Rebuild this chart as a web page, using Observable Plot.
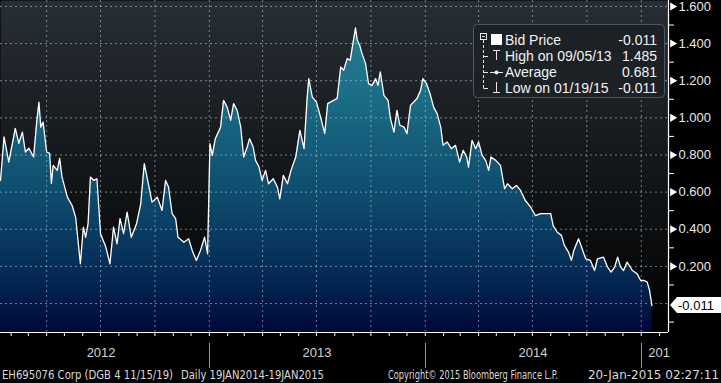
<!DOCTYPE html>
<html><head><meta charset="utf-8">
<script src="https://cdn.jsdelivr.net/npm/d3@7"></script>
<script src="https://cdn.jsdelivr.net/npm/@observablehq/plot@0.6"></script>
<style>
html,body{margin:0;padding:0;background:#000;}
#wrap{position:relative;width:721px;height:383px;overflow:hidden;background:#000;}
#footer{position:relative;width:721px;height:15px;font-family:"DejaVu Sans Condensed","DejaVu Sans",sans-serif;font-size:11.5px;color:#d9d9d9;}
#footer span{position:absolute;top:0;line-height:15px;white-space:nowrap;transform-origin:left center;}
</style></head><body>
<div id="wrap"><div id="chart"></div><div id="footer"></div></div>
<script>
// ---- data ----
const dates = ["2012-01-14","2012-01-20","2012-01-28","2012-02-08","2012-02-14","2012-02-20","2012-02-25","2012-03-02","2012-03-10","2012-03-15","2012-03-19","2012-03-22","2012-03-26","2012-04-01","2012-04-06","2012-04-09","2012-04-12","2012-04-19","2012-04-23","2012-04-27","2012-05-06","2012-05-14","2012-05-20","2012-05-28","2012-06-02","2012-06-06","2012-06-10","2012-06-14","2012-06-20","2012-06-25","2012-07-01","2012-07-10","2012-07-17","2012-07-23","2012-07-29","2012-08-03","2012-08-09","2012-08-15","2012-08-22","2012-08-31","2012-09-07","2012-09-13","2012-09-21","2012-09-26","2012-10-05","2012-10-13","2012-10-19","2012-10-24","2012-10-30","2012-11-05","2012-11-09","2012-11-19","2012-11-27","2012-12-03","2012-12-10","2012-12-17","2012-12-24","2012-12-29","2013-01-02","2013-01-06","2013-01-11","2013-01-20","2013-01-25","2013-01-31","2013-02-06","2013-02-11","2013-02-17","2013-02-23","2013-02-28","2013-03-06","2013-03-10","2013-03-16","2013-03-20","2013-03-26","2013-03-31","2013-04-06","2013-04-11","2013-04-19","2013-04-26","2013-04-30","2013-05-06","2013-05-13","2013-05-19","2013-05-27","2013-06-03","2013-06-10","2013-06-15","2013-06-18","2013-06-24","2013-07-01","2013-07-08","2013-07-15","2013-07-20","2013-07-30","2013-08-05","2013-08-11","2013-08-16","2013-08-22","2013-08-27","2013-09-05","2013-09-08","2013-09-12","2013-09-16","2013-09-22","2013-09-27","2013-10-03","2013-10-09","2013-10-13","2013-10-17","2013-10-23","2013-10-30","2013-11-03","2013-11-09","2013-11-14","2013-11-19","2013-11-26","2013-12-01","2013-12-07","2013-12-18","2013-12-24","2013-12-28","2014-01-03","2014-01-09","2014-01-15","2014-01-21","2014-01-27","2014-01-31","2014-02-07","2014-02-14","2014-02-21","2014-02-28","2014-03-06","2014-03-12","2014-03-15","2014-03-21","2014-03-27","2014-04-01","2014-04-07","2014-04-13","2014-04-18","2014-04-22","2014-04-30","2014-05-08","2014-05-15","2014-05-20","2014-05-28","2014-06-04","2014-06-11","2014-06-19","2014-06-28","2014-07-06","2014-07-15","2014-07-23","2014-08-01","2014-08-05","2014-08-12","2014-08-19","2014-08-24","2014-08-31","2014-09-05","2014-09-09","2014-09-17","2014-09-23","2014-09-29","2014-10-07","2014-10-14","2014-10-19","2014-10-29","2014-11-05","2014-11-11","2014-11-17","2014-11-22","2014-11-27","2014-12-02","2014-12-08","2014-12-17","2014-12-25","2014-12-31","2015-01-06","2015-01-11","2015-01-15","2015-01-19"];
const values = [0.663,0.897,0.762,0.943,0.863,0.923,0.816,0.836,0.789,0.970,1.085,0.950,0.977,0.816,0.809,0.647,0.744,0.717,0.782,0.681,0.573,0.528,0.465,0.214,0.411,0.357,0.430,0.681,0.663,0.672,0.376,0.304,0.214,0.411,0.322,0.457,0.376,0.492,0.357,0.430,0.537,0.753,0.627,0.546,0.573,0.501,0.663,0.627,0.484,0.457,0.357,0.330,0.349,0.286,0.232,0.286,0.357,0.268,0.861,0.798,0.888,0.950,1.094,1.058,0.987,1.077,1.040,0.950,0.789,0.843,0.888,0.843,0.771,0.735,0.663,0.717,0.645,0.672,0.627,0.564,0.690,0.645,0.717,0.789,0.933,0.834,1.094,1.211,1.112,1.085,1.004,0.915,1.077,1.094,1.104,1.274,1.256,1.319,1.310,1.485,1.418,1.391,1.346,1.292,1.184,1.175,1.211,1.175,1.247,1.121,1.094,0.996,0.923,1.040,0.960,0.950,0.915,1.067,1.104,1.148,1.211,1.184,1.130,1.058,1.023,0.950,0.852,0.870,0.834,0.852,0.762,0.825,0.789,0.735,0.879,0.834,0.870,0.798,0.771,0.717,0.789,0.771,0.744,0.618,0.645,0.618,0.636,0.609,0.555,0.519,0.474,0.484,0.484,0.484,0.420,0.384,0.367,0.313,0.277,0.232,0.286,0.349,0.295,0.241,0.232,0.178,0.241,0.250,0.196,0.169,0.196,0.250,0.196,0.178,0.223,0.178,0.160,0.124,0.124,0.115,0.070,-0.011];

const xDomain = ["2012-01-14","2015-02-16"];
const yDomain = [-0.156, 1.632];
const yMajorTicks = [0.2,0.4,0.6,0.8,1.0,1.2,1.4,1.6];
const yGridLines = [0,0.2,0.4,0.6,0.8,1.0,1.2,1.4,1.6];
const yMinorTicks = [-0.1,0.1,0.3,0.5,0.7,0.9,1.1,1.3,1.5];
const quarterGrid = ["2012-04-01","2012-07-01","2012-10-01","2013-01-01","2013-04-01","2013-07-01","2013-10-01","2014-01-01","2014-04-01","2014-07-01","2014-10-01","2015-01-01"];
const yearStarts = ["2013-01-01","2014-01-01","2015-01-01"];
const yearLabelDates = ["2012-07-02","2013-07-02","2014-07-02","2015-01-01"];
const yearLabels = ["2012","2013","2014","201"];
const legendLabels = ["Bid Price","High on 09/05/13","Average","Low on 01/19/15"];
const legendValues = ["-0.011","1.485","0.681","-0.011"];
const lastLabel = "-0.011";
const footerTexts = ["EH695076 Corp (DGB 4 11/15/19)","Daily 19JAN2014-19JAN2015","Copyright\u00A9 2015 Bloomberg Finance L.P.","20-Jan-2015 02:27:11"];

const toDate = s => new Date(s + "T00:00:00Z");
const data = dates.map((d, i) => ({date: toDate(d), value: values[i]}));
const W = 721, H = 368;
const font = "'Liberation Sans', Arial, sans-serif";

const plot = Plot.plot({
  width: W, height: H,
  marginLeft: 0, marginRight: 53, marginTop: 0, marginBottom: 36,
  style: {background: "transparent", color: "#e8e8e8", fontFamily: font, fontSize: "13px", overflow: "visible"},
  x: {type: "utc", domain: xDomain.map(toDate), axis: null},
  y: {domain: yDomain, axis: null},
  marks: [
    Plot.frame({fill: "url(#bgGrad)", stroke: null}),
    Plot.areaY(data, {x: "date", y1: yDomain[0], y2: "value", fill: "url(#areaGrad)"}),
    Plot.gridY(yGridLines, {stroke: "#c8d2dc", strokeOpacity: 0.55, strokeDasharray: "2,3"}),
    Plot.gridX(quarterGrid.map(toDate), {stroke: "#c8d2dc", strokeOpacity: 0.55, strokeDasharray: "2,3"}),
    Plot.lineY(data, {x: "date", y: "value", stroke: "#ffffff", strokeWidth: 1.3}),
    Plot.ruleX([toDate(xDomain[1])], {stroke: "#ffffff", strokeWidth: 1.2}),
    Plot.ruleY([yDomain[0]], {stroke: "#ffffff", strokeWidth: 1.2}),
    Plot.axisY(yMajorTicks, {anchor: "right", label: null, tickSize: 0, tickPadding: 10, tickFormat: d3.format(".3f"), fill: "#e8e8e8", fontSize: 13}),
    Plot.axisY(yMinorTicks, {anchor: "right", label: null, tickSize: 5, tickFormat: () => "", stroke: "#ffffff"}),
    Plot.dot(yMajorTicks, {y: d => d, frameAnchor: "right", symbol: "triangle", r: 3, rotate: 90, fill: "#ffffff", stroke: null, dx: 4}),
    Plot.axisX(d3.utcMonth.range(toDate("2012-02-01"), toDate(xDomain[1])), {anchor: "bottom", label: null, tickSize: 4, tickFormat: () => "", stroke: "#ffffff"}),
    Plot.text(yearLabelDates.slice(0, 3), {x: d => toDate(d), text: (d, i) => yearLabels[i], frameAnchor: "bottom", dy: 24, fill: "#d4d4d4", fontSize: 13}),
    Plot.text(yearLabelDates.slice(3), {x: d => toDate(d), text: () => yearLabels[3], frameAnchor: "bottom", dy: 24, dx: 7, textAnchor: "start", fill: "#d4d4d4", fontSize: 13})
  ]
});

document.getElementById("chart").appendChild(plot);
const svg = d3.select(plot);
const xs = plot.scale("x"), ys = plot.scale("y");

// gradients
const defs = svg.insert("defs", ":first-child");
const bg = defs.append("linearGradient").attr("id", "bgGrad").attr("gradientUnits", "userSpaceOnUse")
  .attr("x1", 0).attr("x2", 0).attr("y1", 0).attr("y2", ys.apply(yDomain[0]));
bg.append("stop").attr("offset", 0).attr("stop-color", "#272e35");
bg.append("stop").attr("offset", 1).attr("stop-color", "#000000");
const ag = defs.append("linearGradient").attr("id", "areaGrad").attr("gradientUnits", "userSpaceOnUse")
  .attr("x1", 0).attr("x2", 0).attr("y1", 0).attr("y2", ys.apply(yDomain[0]));
[[0, "#2a8499"], [0.3, "#1a6c85"], [0.6, "#0d4a6c"], [0.82, "#052b55"], [1, "#000838"]]
  .forEach(([o, c]) => ag.append("stop").attr("offset", o).attr("stop-color", c));

// year separators below axis
const yb = ys.apply(yDomain[0]);
yearStarts.forEach(d => {
  const x = Math.round(xs.apply(toDate(d))) + 0.5;
  svg.append("line").attr("x1", x).attr("x2", x).attr("y1", yb + 11).attr("y2", yb + 36)
    .attr("stroke", "#9a9a9a").attr("stroke-width", 1);
});

// last price tag
const ly = ys.apply(values[values.length - 1]);
const lx = xs.apply(toDate(xDomain[1])) + 2;
svg.append("path").attr("d", `M${lx},${ly} L${lx + 7},${ly - 8} L${W},${ly - 8} L${W},${ly + 8} L${lx + 7},${ly + 8} Z`).attr("fill", "#ffffff");
svg.append("text").attr("x", lx + 8).attr("y", ly).attr("dy", "0.35em").attr("text-anchor", "start")
  .attr("font-family", font).attr("font-size", 13).attr("fill", "#000").text(lastLabel);

// legend
const lg = svg.append("g").attr("font-family", font).attr("font-size", 14).attr("fill", "#f2f2f2").attr("text-anchor", "start");
lg.append("rect").attr("x", 473.5).attr("y", 24.5).attr("width", 191).attr("height", 73).attr("rx", 4)
  .attr("fill", "#1c2125").attr("stroke", "#50565c");
const rows = [40, 56, 72, 88];
rows.forEach((cy, i) => {
  lg.append("text").attr("x", 505).attr("y", cy).attr("dy", "0.36em").attr("text-anchor", "start").text(legendLabels[i]);
  lg.append("text").attr("x", 657).attr("y", cy).attr("dy", "0.36em").attr("text-anchor", "end").text(legendValues[i]);
});
const st = "#e8e8e8";
lg.append("rect").attr("x", 480.5).attr("y", 33.5).attr("width", 6).attr("height", 6).attr("fill", "none").attr("stroke", st);
lg.append("line").attr("x1", 482).attr("x2", 485).attr("y1", 36.5).attr("y2", 36.5).attr("stroke", st);
lg.append("line").attr("x1", 483.5).attr("x2", 483.5).attr("y1", 40).attr("y2", 88.5).attr("stroke", st).attr("stroke-dasharray", "3,2");
[56, 72, 88].forEach(cy => lg.append("line").attr("x1", 483.5).attr("x2", 488).attr("y1", cy + 0.5).attr("y2", cy + 0.5).attr("stroke", st));
lg.append("rect").attr("x", 491).attr("y", 34).attr("width", 11).attr("height", 11).attr("fill", "#ffffff");
lg.append("line").attr("x1", 493).attr("x2", 500).attr("y1", 50.5).attr("y2", 50.5).attr("stroke", st);
lg.append("line").attr("x1", 496.5).attr("x2", 496.5).attr("y1", 50.5).attr("y2", 60).attr("stroke", st);
lg.append("line").attr("x1", 490).attr("x2", 503).attr("y1", 72.5).attr("y2", 72.5).attr("stroke", st);
lg.append("circle").attr("cx", 496.5).attr("cy", 72.5).attr("r", 2).attr("fill", "#ffffff");
lg.append("line").attr("x1", 496.5).attr("x2", 496.5).attr("y1", 82).attr("y2", 92.5).attr("stroke", st);
lg.append("line").attr("x1", 493).attr("x2", 500).attr("y1", 92.5).attr("y2", 92.5).attr("stroke", st);

// footer: each piece fitted to the width it occupies in the reference
const footer = d3.select("#footer");
const footerLeft = [2, 181, 388, 588];
const footerWidth = [171, 143, 170, 131];
footerTexts.forEach((t, i) => {
  const s = footer.append("span").text(t).style("left", footerLeft[i] + "px");
  const w = s.node().getBoundingClientRect().width;
  if (w > 0) s.style("transform", `scaleX(${footerWidth[i] / w})`);
});
</script>
</body></html>
